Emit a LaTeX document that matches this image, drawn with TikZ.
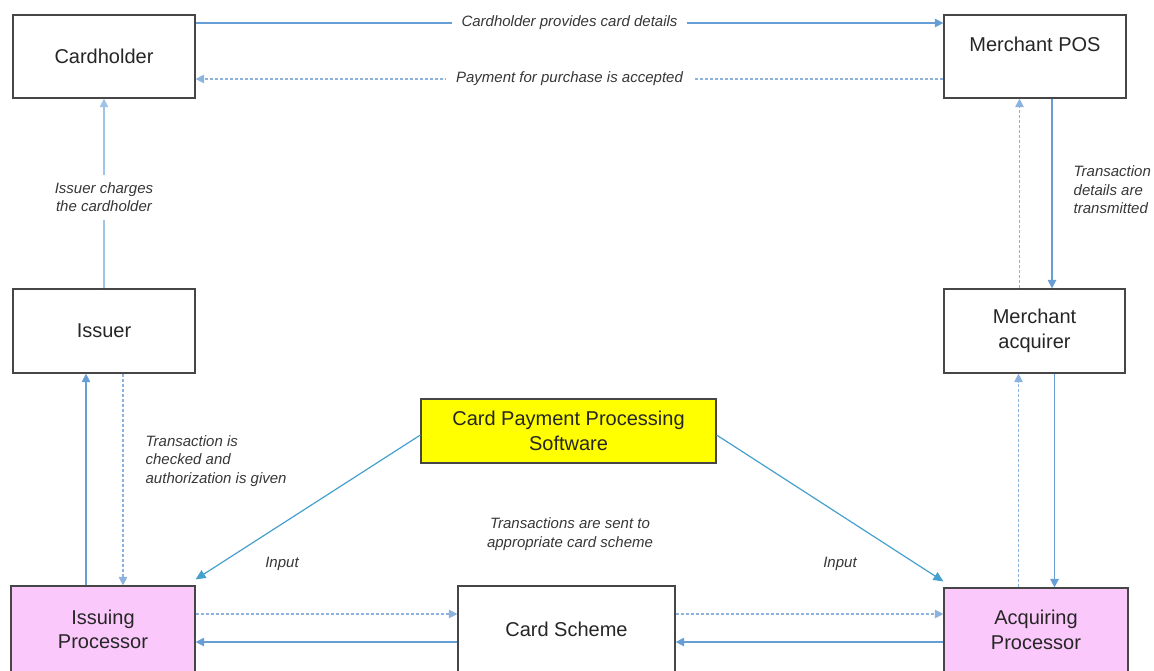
\documentclass[tikz,border=0pt]{standalone}
\usepackage{fontspec}
\setmainfont{Liberation Sans}
\usetikzlibrary{arrows.meta,calc}
\definecolor{lineblue}{RGB}{104,158,214}
\definecolor{lightblue}{RGB}{160,196,232}
\definecolor{dotblue}{RGB}{140,178,222}
\definecolor{inputblue}{RGB}{70,160,205}
\definecolor{pinkfill}{RGB}{250,200,250}
\definecolor{yellowfill}{RGB}{255,255,0}
\definecolor{boxline}{RGB}{70,70,70}
\definecolor{lbl}{RGB}{55,55,55}
\begin{document}
\begin{tikzpicture}[x=1pt,y=-1pt,
  box/.style={draw=boxline,line width=1.2pt,fill=white,minimum width=182pt,minimum height=83pt,
    inner sep=0pt,align=center,font=\fontsize{20}{24.5}\selectfont,text=black!85},
  procbox/.style={box,fill=pinkfill},
  swbox/.style={box,fill=yellowfill,minimum width=295pt,minimum height=64pt},
  solidarr/.style={draw=lineblue,line width=1.3pt,-{Triangle[length=8.5pt,width=8.5pt]}},
  lightarr/.style={draw=lightblue,line width=1.1pt,-{Triangle[length=8.5pt,width=8.5pt]}},
  dotarr/.style={draw=dotblue,line width=1.3pt,dash pattern=on 3pt off 2pt,-{Triangle[length=8.5pt,width=8.5pt]}},
  inarr/.style={draw=inputblue,line width=1.2pt,-{Triangle[length=10pt,width=9pt]}},
  lab/.style={font=\itshape\fontsize{15}{18.5}\selectfont,text=lbl,align=center,inner sep=2pt},
  gaplab/.style={lab,fill=white,inner xsep=10pt},
]
\useasboundingbox (0,0) rectangle (1154,670);

% nodes
\node[box] (ch) at (104,56.5) {Cardholder};
\node[box] (pos) at (1035,56.5) {Merchant POS\\[-8pt]\strut};
\node[box,minimum height=84pt] (iss) at (104,331) {Issuer};
\node[box,minimum width=181pt,minimum height=84pt] (macq) at (1034.5,331) {Merchant\\acquirer};
\node[swbox] (sw) at (568.5,431) {Card Payment Processing\\Software};
\node[procbox,minimum width=184pt,minimum height=87pt] (issp) at (103,629.5) {Issuing\\Processor};
\node[box,minimum width=217pt,minimum height=87pt] (cs) at (566.5,629.5) {Card Scheme};
\node[procbox,minimum width=184pt,minimum height=84pt] (acqp) at (1036,630) {Acquiring\\Processor};

% top connectors
\draw[solidarr] ([yshift=33.5pt]ch.east) -- node[gaplab]{Cardholder provides card details} ([yshift=33.5pt]ch.east -| pos.west);
\draw[dotarr] ([yshift=-22.5pt]pos.west) -- node[gaplab]{Payment for purchase is accepted} ([yshift=-22.5pt]pos.west -| ch.east);

% left column
\draw[lightarr] (iss.north) -- node[lab,fill=white,inner ysep=8pt,pos=0.48]{Issuer charges\\the cardholder} (ch.south);
\draw[solidarr] ([xshift=-18pt]iss.south |- issp.north) -- ([xshift=-18pt]iss.south);
\draw[dotarr] ([xshift=19pt]iss.south) -- node[lab,align=left,anchor=west,pos=0.413,xshift=20pt]{Transaction is\\checked and\\authorization is given} ([xshift=19pt]iss.south |- issp.north);

% right column
\draw[solidarr] ([xshift=17pt]pos.south) -- node[lab,align=left,anchor=west,pos=0.48,xshift=19pt]{Transaction\\details are\\transmitted} ([xshift=17pt]pos.south |- macq.north);
\draw[dotarr] ([xshift=-15pt]macq.north) -- ([xshift=-15pt]macq.north |- pos.south);
\draw[solidarr] ([xshift=20pt]macq.south) -- ([xshift=20pt]macq.south |- acqp.north);
\draw[dotarr] ([xshift=-16pt]macq.south |- acqp.north) -- ([xshift=-16pt]macq.south);

% bottom row
\draw[dotarr] ([yshift=15.5pt]issp.east) -- ([yshift=15.5pt]issp.east -| cs.west);
\draw[solidarr] ([yshift=-12.5pt]issp.east -| cs.west) -- ([yshift=-12.5pt]issp.east);
\draw[dotarr] ([yshift=15.5pt]cs.east) -- ([yshift=15.5pt]cs.east -| acqp.west);
\draw[solidarr] ([yshift=-12.5pt]cs.east -| acqp.west) -- ([yshift=-12.5pt]cs.east);
\node[lab] (sent) at (570,534) {Transactions are sent to\\appropriate card scheme};

% software inputs
\draw[inarr] ([yshift=-4pt]sw.west) -- ([yshift=6pt]issp.north east);
\draw[inarr] ([yshift=-4pt]sw.east) -- ([yshift=6pt]acqp.north west);
\node[lab] (in1) at (282,564) {Input};
\node[lab] (in2) at (840,564) {Input};
\end{tikzpicture}
\end{document}
